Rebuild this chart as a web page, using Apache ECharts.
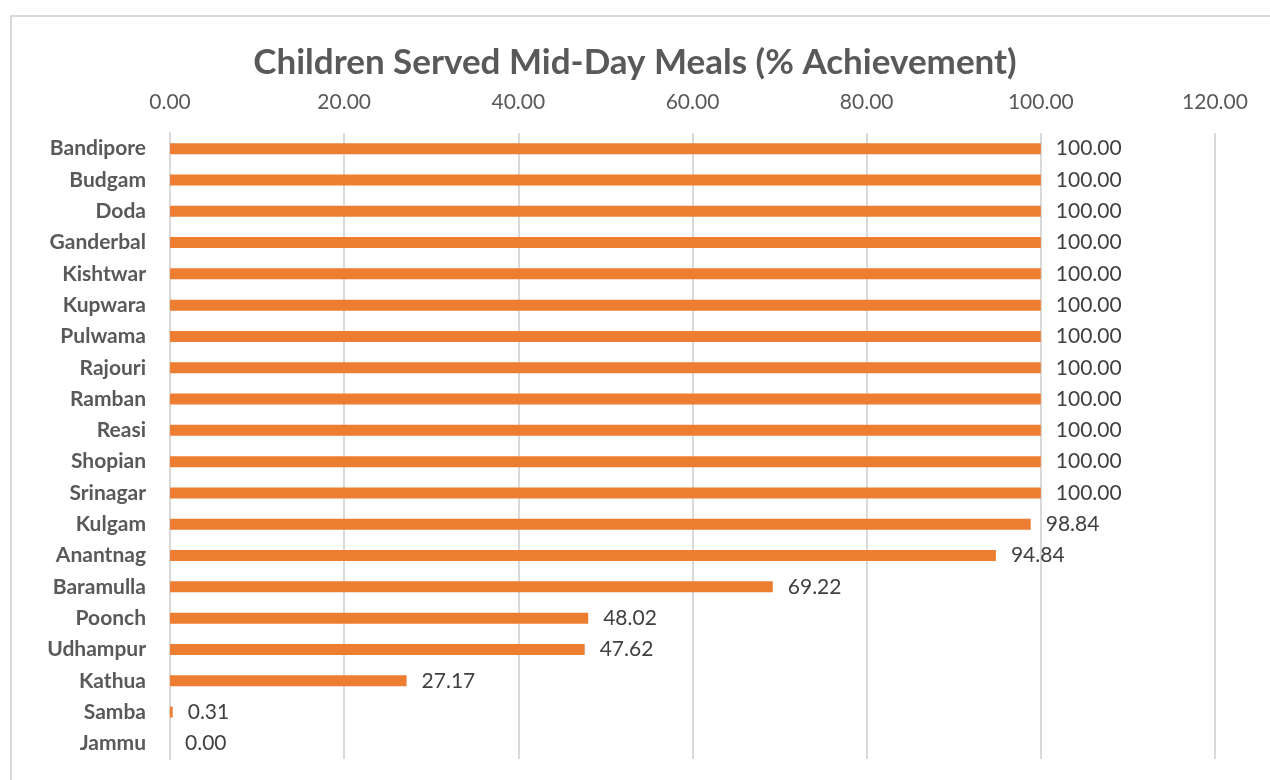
<!DOCTYPE html>
<html>
<head>
<meta charset="utf-8">
<script src="https://cdn.jsdelivr.net/npm/echarts@6/dist/echarts.min.js"></script>
<style>
  html, body { margin: 0; padding: 0; background: #fff; overflow: hidden; }
  #frame { position: absolute; left: 10px; top: 15px; width: 1300px; height: 800px; border: 2px solid #d9d9d9; box-sizing: border-box; }
  #chart { position: absolute; left: 0; top: 0; width: 1270px; height: 780px; }
</style>
</head>
<body>
<div id="frame"></div>
<div id="chart"></div>
<script>
// 地区（从上到下）
var districts = ['Bandipore', 'Budgam', 'Doda', 'Ganderbal', 'Kishtwar', 'Kupwara', 'Pulwama',
  'Rajouri', 'Ramban', 'Reasi', 'Shopian', 'Srinagar', 'Kulgam', 'Anantnag', 'Baramulla',
  'Poonch', 'Udhampur', 'Kathua', 'Samba', 'Jammu'];
// 完成率 %
var achievement = [100, 100, 100, 100, 100, 100, 100, 100, 100, 100, 100, 100,
  98.84, 94.84, 69.22, 48.02, 47.62, 27.17, 0.31, 0];
var axisTicks = [0, 20, 40, 60, 80, 100, 120];

var myChart = echarts.init(document.getElementById('chart'));
var font = 'Lato, "Open Sans", sans-serif';
var option = {
  animation: false,
  backgroundColor: 'transparent',
  title: {
    text: 'Children Served Mid-Day Meals (% Achievement)',
    left: 'center',
    top: 40,
    textStyle: { fontFamily: font, fontSize: 35, fontWeight: 'bold', color: '#595959' }
  },
  grid: { left: 170, right: 55, top: 133, bottom: 21, containLabel: false },
  xAxis: {
    type: 'value',
    position: 'top',
    min: axisTicks[0],
    max: axisTicks[axisTicks.length - 1],
    interval: 20,
    axisLine: { show: false },
    axisTick: { show: false },
    axisLabel: {
      margin: 20,
      fontFamily: font, fontSize: 21, color: '#595959',
      formatter: function (v) { return v.toFixed(2); }
    },
    splitLine: { show: true, lineStyle: { color: '#d9d9d9', width: 2 } }
  },
  yAxis: {
    type: 'category',
    inverse: true,
    data: districts,
    axisLine: { show: true, lineStyle: { color: '#d9d9d9', width: 2 } },
    axisTick: { show: false },
    axisLabel: {
      margin: 24,
      fontFamily: font, fontSize: 21, fontWeight: 'bold', color: '#595959'
    }
  },
  series: [{
    type: 'bar',
    data: achievement,
    barWidth: 11,
    itemStyle: { color: '#ED7D31' },
    label: {
      show: true,
      position: 'right',
      distance: 15,
      fontFamily: font, fontSize: 21, color: '#404040',
      formatter: function (p) { return p.value.toFixed(2); }
    }
  }]
};
myChart.setOption(option);
</script>
</body>
</html>
